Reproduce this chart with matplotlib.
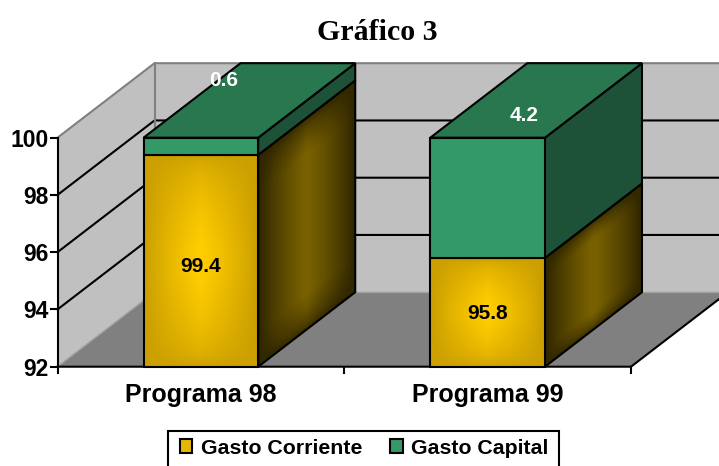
import numpy as np
import matplotlib
matplotlib.use("Agg")
import matplotlib.pyplot as plt
from matplotlib.patches import Polygon, Patch, Rectangle

plt.rcParams["font.family"] = ["Liberation Sans", "DejaVu Sans"]

# ── Data ──
categories = ["Programa 98", "Programa 99"]
gasto_corriente = [99.4, 95.8]
gasto_capital = [0.6, 4.2]
y_ticks = [92, 94, 96, 98, 100]
series_names = ["Gasto Corriente", "Gasto Capital"]

# ── Colours ──
GOLD_MID, GOLD_EDGE = np.array([255, 204, 0]) / 255, np.array([204, 160, 0]) / 255
SIDE_MID, SIDE_EDGE = np.array([120, 96, 0]) / 255, np.array([50, 40, 0]) / 255
GREEN_FRONT, GREEN_TOP, GREEN_SIDE = "#339966", "#28774F", "#1E5238"
WALL, FLOOR, WALL_EDGE = "#C0C0C0", "#808080", "#808080"

# ── Axes: the front plane of the box, 92-100 on y, categories 0-2 on x ──
W, H = 719, 466
x_unit = (631 - 57.5) / 2
y_unit = (366.7 - 137.7) / 8
fig = plt.figure(figsize=(W / 100, H / 100), dpi=100)
ax = fig.add_axes([0, 0, 1, 1])
ax.set_xlim(-57.5 / x_unit, (W - 57.5) / x_unit)
ax.set_ylim(92 - (H - 366.7) / y_unit, 92 + 366.7 / y_unit)
ax.axis("off")

dx = 97 / x_unit   # depth of the box, in data units
dy = 74.5 / y_unit
bar_w = 0.40
y0, y1 = y_ticks[0], y_ticks[-1]
x_max = 2.0


def poly(pts, face, edge="black", lw=1.5, z=1):
    ax.add_patch(Polygon(pts, closed=True, facecolor=face, edgecolor=edge,
                         linewidth=lw, joinstyle="miter", zorder=z))


def shaded(x_a, x_b, y_a, y_b, skew, mid, edge, z, ky=0.9):
    # soft path gradient, skew shifts the far side for the side faces
    n = 120
    u = np.linspace(0, 1, n + 1)
    v = np.linspace(0, 1, n + 1)
    U, V = np.meshgrid(u, v)
    X = x_a + (x_b - x_a) * U
    Y = y_a + (y_b - y_a) * V + skew * U
    uc = (u[:-1] + u[1:]) / 2
    vc = (v[:-1] + v[1:]) / 2
    Uc, Vc = np.meshgrid(uc, vc)
    tx = 1 - np.abs(2 * Uc - 1)
    ty = np.clip((1 - np.abs(2 * Vc - 1)) / ky, 0, 1)
    t = np.clip((tx ** 0.8 * ty ** 0.5 - 0.1) / 0.85, 0, 1)[..., None]
    C = edge + (mid - edge) * t
    ax.pcolormesh(X, Y, C, shading="flat", linewidth=0, antialiased=False, zorder=z)


# ── Walls and floor ──
poly([(0, y0), (x_max, y0), (x_max + dx, y0 + dy), (dx, y0 + dy)], FLOOR, "none", 0, 1)
poly([(0, y0), (dx, y0 + dy), (dx, y1 + dy), (0, y1)], WALL, "none", 0, 1)
poly([(dx, y0 + dy), (x_max + dx, y0 + dy), (x_max + dx, y1 + dy), (dx, y1 + dy)], WALL, "none", 0, 1)

for t in y_ticks[1:-1]:
    ax.plot([0, dx, x_max + dx], [t, t + dy, t + dy], color="black", lw=1.5, zorder=2)
ax.plot([0, dx, x_max + dx], [y1, y1 + dy, y1 + dy], color=WALL_EDGE, lw=1.5, zorder=2)
ax.plot([dx, dx], [y0 + dy, y1 + dy], color=WALL_EDGE, lw=1.5, zorder=2)
ax.plot([dx, x_max + dx], [y0 + dy, y0 + dy], color="#A0A0A0", lw=1, zorder=2)
ax.plot([0, dx], [y0, y0 + dy], color="#A0A0A0", lw=1, zorder=2)

# ── Axes lines, ticks and labels ──
ax.plot([0, 0], [y0, y1], color="black", lw=1.5, zorder=3)
ax.plot([0, x_max, x_max + dx], [y0, y0, y0 + dy], color="black", lw=1.5, zorder=3)
tick_x = 7 / x_unit
tick_y = 6 / y_unit
for t in y_ticks:
    ax.plot([-tick_x, 0], [t, t], color="black", lw=1.5, zorder=3)
    ax.text(-9 / x_unit, t, str(t), ha="right", va="center_baseline",
            fontsize=16.5, fontweight="bold")
for i in range(len(categories) + 1):
    ax.plot([i, i], [y0, y0 - tick_y], color="black", lw=1.5, zorder=3)
for i, name in enumerate(categories):
    ax.text(i + 0.5, y0 - 26 / y_unit, name, ha="center", va="center_baseline",
            fontsize=18, fontweight="bold")

# ── Bars ──
label_shift = [-4, 1]
for i in range(len(categories)):
    a = i + 0.5 - bar_w / 2
    b = a + bar_w
    s1 = gasto_corriente[i]
    s2 = s1 + gasto_capital[i]
    z = 5 + i

    # side faces
    shaded(b, b + dx, y0, s1, dy, SIDE_MID, SIDE_EDGE, z, ky=0.35)
    poly([(b, y0), (b + dx, y0 + dy), (b + dx, s1 + dy), (b, s1)], "none", "black", 1.5, z)
    poly([(b, s1), (b + dx, s1 + dy), (b + dx, s2 + dy), (b, s2)], GREEN_SIDE, "black", 1.5, z)
    # top
    poly([(a, s2), (b, s2), (b + dx, s2 + dy), (a + dx, s2 + dy)], GREEN_TOP, "black", 1.5, z)
    # front
    shaded(a, b, y0, s1, 0, GOLD_MID, GOLD_EDGE, z)
    poly([(a, y0), (b, y0), (b, s1), (a, s1)], "none", "black", 1.5, z)
    poly([(a, s1), (b, s1), (b, s2), (a, s2)], GREEN_FRONT, "black", 1.5, z)

    # value labels
    ax.text(i + 0.5, (y0 + s1) / 2 + label_shift[i] / y_unit, f"{s1:.1f}",
            ha="center", va="center_baseline",
            fontsize=15, fontweight="bold", color="black", zorder=20)

cap_offsets = [(23, 68), (37, 84)]
for i, (ox, oy) in enumerate(cap_offsets):
    mid = gasto_corriente[i] + gasto_capital[i] / 2
    ax.text(i + 0.5 + ox / x_unit, mid + oy / y_unit, f"{gasto_capital[i]:.1f}",
            ha="center", va="center_baseline", fontsize=15, fontweight="bold",
            color="white", zorder=20)

# ── Title and legend ──
fig.text(377 / W, 1 - 32 / H, "Gráfico 3", ha="center", va="center",
         fontsize=21.5, fontweight="bold", family=["Liberation Serif", "DejaVu Serif"])

# frame runs past the bottom of the picture, as in the original
fig.add_artist(Rectangle((167.5 / W, 1 - 475 / H), 391 / W, 44 / H, transform=fig.transFigure,
                         facecolor="white", edgecolor="black", linewidth=1.5, zorder=3))
handles = [Patch(facecolor="#E6B800", edgecolor="black", linewidth=1.5),
           Patch(facecolor=GREEN_FRONT, edgecolor="black", linewidth=1.5)]
leg = fig.legend(handles, series_names, ncol=2, loc="center",
                 bbox_to_anchor=(364 / W, 1 - 448 / H),
                 prop={"size": 15.3, "weight": "bold"},
                 frameon=False, handlelength=0.6, handleheight=0.6, handletextpad=0.4,
                 columnspacing=1.3, borderpad=0, borderaxespad=0)
leg.set_zorder(4)

fig.savefig("out.png", dpi=100)
